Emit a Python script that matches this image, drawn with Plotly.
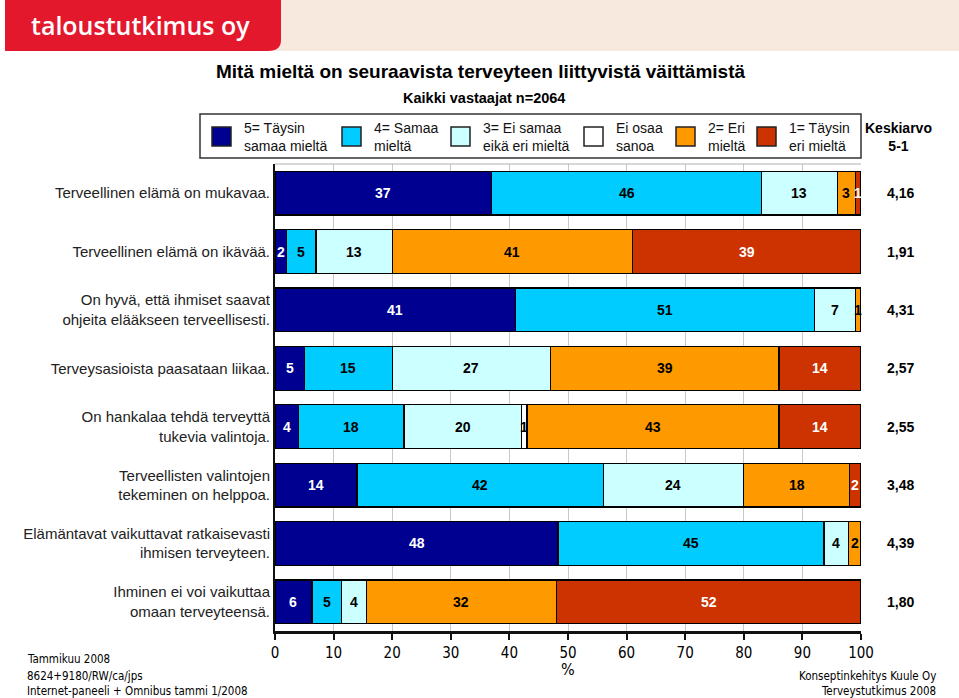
import plotly.graph_objects as go

categories = [
    "Terveellinen elämä on mukavaa.",
    "Terveellinen elämä on ikävää.",
    "On hyvä, että ihmiset saavat<br>ohjeita elääkseen terveellisesti.",
    "Terveysasioista paasataan liikaa.",
    "On hankalaa tehdä terveyttä<br>tukevia valintoja.",
    "Terveellisten valintojen<br>tekeminen on helppoa.",
    "Elämäntavat vaikuttavat ratkaisevasti<br>ihmisen terveyteen.",
    "Ihminen ei voi vaikuttaa<br>omaan terveyteensä.",
]
series_names = ["5= Täysin<br>samaa mieltä", "4= Samaa<br>mieltä", "3= Ei samaa<br>eikä eri mieltä",
                "Ei osaa<br>sanoa", "2= Eri<br>mieltä", "1= Täysin<br>eri mieltä"]
s5 = [37, 2, 41, 5, 4, 14, 48.3, 6.3]
s4 = [46, 5, 51, 15, 18, 42, 45.4, 5.1]
s3 = [13, 13, 7, 27, 20, 24, 4.1, 4.2]
s0 = [0, 0, 0, 0, 1, 0, 0, 0]
s2 = [3, 41, 1, 39, 43, 18, 2.2, 32.4]
s1 = [1, 39, 0, 14, 14, 2, 0, 52.0]
keskiarvo = ["4,16", "1,91", "4,31", "2,57", "2,55", "3,48", "4,39", "1,80"]
xticks = [0, 10, 20, 30, 40, 50, 60, 70, 80, 90, 100]

series = [s5, s4, s3, s0, s2, s1]
colors = ["#000090", "#00ccff", "#ccffff", "#ffffff", "#ff9900", "#cc3300"]
txtcol = ["white", "black", "black", "black", "black", "white"]

FONT = "Liberation Sans, Arial, Helvetica, sans-serif"
NARROW = "Liberation Sans Narrow, DejaVu Sans Condensed, Arial Narrow, sans-serif"

L, R, T, B = 275, 861, 164, 631
W, H = R - L, B - T


def px(x):
    return (x - L) / W


def py(y):
    return 1 - (y - T) / H


fig = go.Figure()
ys = list(range(len(categories)))
for name, vals, c in zip(series_names, series, colors):
    fig.add_trace(go.Bar(
        x=vals, y=ys, orientation="h", name=name.replace("<br>", " "),
        marker=dict(color=c, line=dict(color="black", width=1.2)),
        width=0.75, showlegend=False, hoverinfo="x+name",
    ))

annotations = []
# segment labels
for i in ys:
    cum = 0
    for k, vals in enumerate(series):
        v = vals[i]
        if v > 0:
            annotations.append(dict(
                x=cum + v / 2, y=i, xref="x", yref="y", text="<b>%d</b>" % round(v),
                xanchor="center", yanchor="middle",
                showarrow=False, font=dict(family=FONT, size=14, color=txtcol[k]),
            ))
        cum += v
    annotations.append(dict(
        x=px(900), y=i, xref="paper", yref="y", text="<b>%s</b>" % keskiarvo[i],
        xanchor="center", yanchor="middle",
        showarrow=False, font=dict(family=FONT, size=14, color="black"),
    ))

shapes = []
# header banner
shapes.append(dict(type="rect", xref="paper", yref="paper", x0=px(270), x1=px(959), y0=py(0), y1=py(51),
                   fillcolor="#f8e9df", line=dict(width=0), layer="below"))
shapes.append(dict(type="path", xref="paper", yref="paper",
                   path="M %f,%f L %f,%f L %f,%f Q %f,%f %f,%f L %f,%f Z" % (
                       px(5), py(0), px(281), py(0), px(281), py(40),
                       px(281), py(51), px(268), py(51), px(5), py(51)),
                   fillcolor="#e3182d", line=dict(width=0), layer="below"))
annotations.append(dict(x=px(29), y=py(25), xref="paper", yref="paper", xanchor="left", yanchor="middle",
                        text="taloustutkimus oy", showarrow=False,
                        font=dict(family="Open Sans, DejaVu Sans, sans-serif", size=25, color="white",
                                  weight=600)))
# titles
annotations.append(dict(x=px(480), y=py(71), xref="paper", yref="paper", xanchor="center", yanchor="middle",
                        text="<b>Mitä mieltä on seuraavista terveyteen liittyvistä väittämistä</b>",
                        showarrow=False, font=dict(family=FONT, size=19, color="black")))
annotations.append(dict(x=px(484), y=py(98), xref="paper", yref="paper", xanchor="center", yanchor="middle",
                        text="<b>Kaikki vastaajat n=2064</b>",
                        showarrow=False, font=dict(family=FONT, size=14.5, color="black")))
# legend box
shapes.append(dict(type="rect", xref="paper", yref="paper", x0=px(200), x1=px(861), y0=py(114), y1=py(158),
                   fillcolor="white", line=dict(color="#333333", width=1.5)))
sq_x = [212, 342, 451, 584, 676, 757]
tx_x = [242, 372, 481, 614, 706, 787]
for sx, tx, c, name in zip(sq_x, tx_x, colors, series_names):
    shapes.append(dict(type="rect", xref="paper", yref="paper", x0=px(sx), x1=px(sx + 19),
                       y0=py(127), y1=py(146), fillcolor=c, line=dict(color="#222222", width=1.5)))
    annotations.append(dict(x=px(tx), y=py(137), xref="paper", yref="paper", xanchor="left", yanchor="middle",
                            align="left", text=name, showarrow=False,
                            font=dict(family=FONT, size=14, color="#111111")))
annotations.append(dict(x=px(898), y=py(137), xref="paper", yref="paper", xanchor="center", yanchor="middle",
                        text="<b>Keskiarvo</b><br><b>5-1</b>", showarrow=False,
                        font=dict(family=FONT, size=14, color="black")))
# plot frame (thin top line)
shapes.append(dict(type="line", xref="paper", yref="paper", x0=0, x1=1, y0=1, y1=1,
                   line=dict(color="#b0b0b0", width=1)))
# axis title
annotations.append(dict(x=px(568), y=py(669), xref="paper", yref="paper", xanchor="center", yanchor="middle",
                        text="%", showarrow=False, font=dict(family=NARROW, size=16, color="black")))
# footers
for yy, t in zip([659, 676, 691], ["Tammikuu 2008", "8624+9180/RW/ca/jps", "Internet-paneeli + Omnibus tammi 1/2008"]):
    annotations.append(dict(x=px(25), y=py(yy), xref="paper", yref="paper", xanchor="left", yanchor="middle",
                            text=t, showarrow=False, font=dict(family=NARROW, size=11.5, color="black")))
for yy, t in zip([676, 691], ["Konseptinkehitys Kuule Oy", "Terveystutkimus 2008"]):
    annotations.append(dict(x=px(938), y=py(yy), xref="paper", yref="paper", xanchor="right", yanchor="middle",
                            text=t, showarrow=False, font=dict(family=NARROW, size=11.5, color="black")))

fig.update_layout(
    width=959, height=698, barmode="stack", bargap=0.25,
    margin=dict(l=L, r=959 - R, t=T, b=698 - B, pad=0),
    paper_bgcolor="white", plot_bgcolor="white",
    annotations=annotations, shapes=shapes,
    xaxis=dict(range=[0, 100], tickvals=xticks, ticktext=[str(v) for v in xticks],
               showgrid=True, gridcolor="#c8c8c8", gridwidth=1,
               showline=True, linecolor="#111111", linewidth=2.5,
               ticks="outside", ticklen=6, tickcolor="#111111", tickwidth=1.5,
               tickfont=dict(family=NARROW, size=15, color="black"), zeroline=False, fixedrange=True),
    yaxis=dict(tickvals=ys, ticktext=categories, range=[7.5, -0.5], autorange=False,
               showline=True, linecolor="#111111", linewidth=2, ticks="",
               tickfont=dict(family=FONT, size=15, color="#222222"), showgrid=False, zeroline=False,
               fixedrange=True),
    font=dict(family=FONT),
)

fig.write_html("out.html", config={"displayModeBar": False})
with open("out.html", "r", encoding="utf-8") as f:
    html = f.read()
html = html.replace("<head>", "<head><style>html,body{margin:0;padding:0;overflow:hidden;}</style>", 1)
with open("out.html", "w", encoding="utf-8") as f:
    f.write(html)
